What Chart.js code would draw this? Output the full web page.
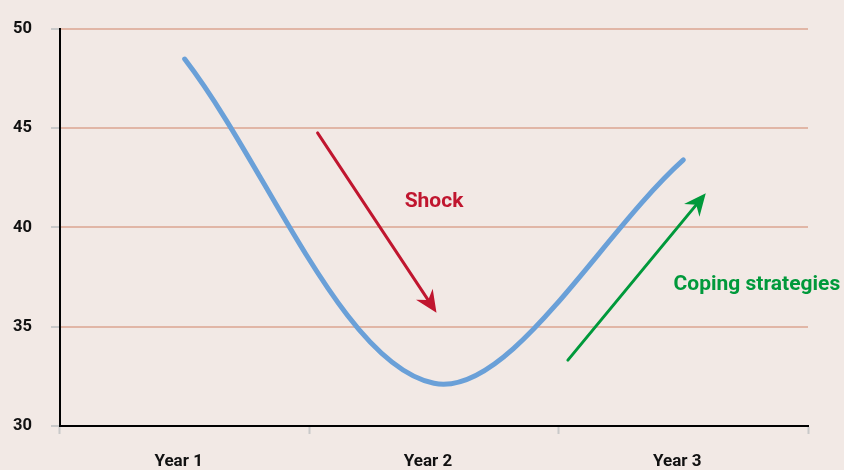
<!DOCTYPE html>
<html><head><meta charset="utf-8">
<script src="https://cdn.jsdelivr.net/npm/chart.js@4/dist/chart.umd.min.js"></script>
<style>html,body{margin:0;padding:0;background:#f2e9e5;overflow:hidden}#wrap{width:844px;height:470px}</style>
</head><body><div id="wrap"><canvas id="c" width="844" height="470"></canvas></div>
<script>
// ---- data ----
const categories = ['Year 1', 'Year 2', 'Year 3'];
const seriesValues = [48.48, 32.15, 43.4];
const yTickValues = [30, 35, 40, 45, 50];
// annotation anchors in data space: [category index, value]
const shockArrowFrom = [0.533, 44.76];
const shockArrowTo = [1.01, 35.71];
const copingArrowFrom = [1.537, 33.32];
const copingArrowTo = [2.09, 41.72];
const shockLabel = ['Shock', 1.0, 41.27];
const copingLabel = ['Coping strategies', 2.295, 37.12];

const FONT = 'Roboto, "DejaVu Sans", sans-serif';
const BG = '#f2e9e5';

const bgPlugin = {
  id: 'bg',
  beforeDraw(chart) {
    const ctx = chart.ctx;
    ctx.save();
    ctx.fillStyle = BG;
    ctx.fillRect(0, 0, chart.width, chart.height);
    ctx.restore();
  }
};

function drawArrow(ctx, x1, y1, x2, y2, color) {
  const ang = Math.atan2(y2 - y1, x2 - x1);
  const headLen = 22, headHalf = 10, notch = 15;
  const c = Math.cos(ang), s = Math.sin(ang);
  ctx.save();
  ctx.strokeStyle = color;
  ctx.fillStyle = color;
  ctx.lineWidth = 3;
  ctx.lineCap = 'round';
  ctx.beginPath();
  ctx.moveTo(x1, y1);
  ctx.lineTo(x2 - c * notch, y2 - s * notch);
  ctx.stroke();
  const bx = x2 - c * headLen, by = y2 - s * headLen;
  ctx.beginPath();
  ctx.moveTo(x2, y2);
  ctx.lineTo(bx - s * headHalf, by + c * headHalf);
  ctx.lineTo(x2 - c * notch, y2 - s * notch);
  ctx.lineTo(bx + s * headHalf, by - c * headHalf);
  ctx.closePath();
  ctx.fill();
  ctx.restore();
}

const annotPlugin = {
  id: 'annot',
  afterDatasetsDraw(chart) {
    const ctx = chart.ctx;
    const xs = chart.scales.x, ys = chart.scales.y;
    const P = (p) => [xs.getPixelForValue(p[0]), ys.getPixelForValue(p[1])];
    let a = P(shockArrowFrom), b = P(shockArrowTo);
    drawArrow(ctx, a[0], a[1], b[0], b[1], '#c0162f');
    a = P(copingArrowFrom); b = P(copingArrowTo);
    drawArrow(ctx, a[0], a[1], b[0], b[1], '#00993b');
    ctx.save();
    ctx.font = 'bold 21px ' + FONT;
    ctx.textAlign = 'center';
    ctx.textBaseline = 'middle';
    ctx.fillStyle = '#c0162f';
    ctx.fillText(shockLabel[0], xs.getPixelForValue(shockLabel[1]), ys.getPixelForValue(shockLabel[2]));
    ctx.fillStyle = '#00993b';
    ctx.fillText(copingLabel[0], xs.getPixelForValue(copingLabel[1]), ys.getPixelForValue(copingLabel[2]));
    ctx.restore();
  }
};

new Chart(document.getElementById('c'), {
  type: 'line',
  data: {
    labels: categories,
    datasets: [{
      data: seriesValues,
      borderColor: '#6aa0d8',
      borderWidth: 5,
      borderCapStyle: 'round',
      pointRadius: 0,
      pointHoverRadius: 0,
      tension: 1 / 3,
      fill: false
    }]
  },
  options: {
    responsive: false,
    devicePixelRatio: 1,
    animation: false,
    events: [],
    layout: { padding: { top: 28, right: 36, left: 0, bottom: 0 } },
    plugins: { legend: { display: false }, tooltip: { enabled: false } },
    scales: {
      x: {
        type: 'category',
        offset: true,
        afterFit(s) { s.height = 44; },
        grid: { drawOnChartArea: false, drawTicks: true, tickLength: 8, tickColor: '#c9c9c9', tickWidth: 2, offset: true },
        border: { display: true, color: '#000', width: 2 },
        ticks: { color: '#111', padding: 18, labelOffset: -6, font: { family: FONT, size: 17, weight: 'bold' }, maxRotation: 0 }
      },
      y: {
        min: 30, max: 50,
        afterFit(s) { s.width = 60; },
        afterBuildTicks(s) { s.ticks = yTickValues.map(v => ({ value: v })); },
        grid: { color: '#e1b6a6', lineWidth: 2, drawTicks: true, tickLength: 9, tickColor: '#c9c9c9', tickWidth: 2 },
        border: { display: true, color: '#000', width: 2 },
        ticks: { color: '#111', padding: 19, font: { family: FONT, size: 16.5, weight: 'bold' } }
      }
    }
  },
  plugins: [bgPlugin, annotPlugin]
});
</script>
</body></html>
